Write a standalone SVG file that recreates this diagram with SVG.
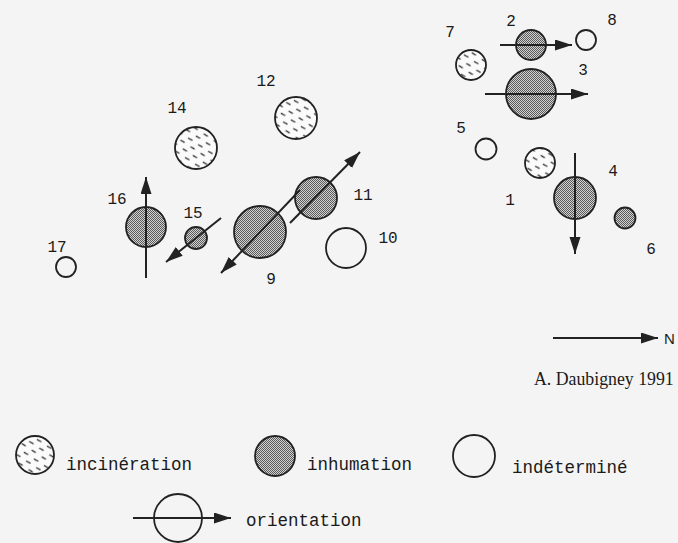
<svg xmlns="http://www.w3.org/2000/svg" width="678" height="543" viewBox="0 0 678 543">
<defs>
<pattern id="dots" patternUnits="userSpaceOnUse" width="2" height="2">
<rect width="2" height="2" fill="#d2d2d2"/>
<rect width="1" height="1" fill="#5a5a5a"/>
<rect x="1" y="1" width="1" height="1" fill="#5a5a5a"/>
</pattern>
<pattern id="dash" patternUnits="userSpaceOnUse" width="8" height="9" patternTransform="rotate(-15)">
<rect width="8" height="9" fill="#fbfbfb"/>
<line x1="2" y1="2" x2="5.5" y2="5.5" stroke="#333" stroke-width="1.2"/>
</pattern>
<marker id="ah" markerUnits="userSpaceOnUse" markerWidth="18" markerHeight="12" refX="17" refY="5.5" orient="auto">
<path d="M0,0 L17,5.5 L0,11 z" fill="#222"/>
</marker>
<style>
.inh{fill:url(#dots);stroke:#222;stroke-width:1.8}
.inc{fill:url(#dash);stroke:#222;stroke-width:1.8}
.ind{fill:none;stroke:#222;stroke-width:1.8}
.lbl{font-family:"Liberation Mono","Courier New",monospace;font-size:16px;fill:#1a1a1a;text-anchor:middle}
.leg{font-family:"Liberation Mono","Courier New",monospace;font-size:17.5px;fill:#1a1a1a}
.arr{stroke:#222;stroke-width:2;fill:none;marker-end:url(#ah)}
.in{stroke:#222;stroke-width:1.6;stroke-dasharray:1.5 1.2;fill:none}
</style>
</defs>
<rect width="678" height="543" fill="#f4f4f4"/>

<g id="n2"><circle class="inh" cx="531" cy="45" r="15"/><text class="lbl" x="511" y="26">2</text></g>
<g id="n8"><circle class="ind" cx="586" cy="40" r="10"/><text class="lbl" x="612" y="25">8</text></g>
<g id="n7"><circle class="inc" cx="471" cy="65" r="15"/><text class="lbl" x="450" y="37">7</text></g>
<g id="n3"><circle class="inh" cx="531" cy="94" r="25"/><text class="lbl" x="583" y="75">3</text></g>
<g id="n5"><circle class="ind" cx="486" cy="149" r="10.5"/><text class="lbl" x="461" y="133">5</text></g>
<g id="n1"><circle class="inc" cx="540" cy="163" r="15"/><text class="lbl" x="510" y="205">1</text></g>
<g id="n4"><circle class="inh" cx="575" cy="198" r="21"/><text class="lbl" x="613" y="176">4</text></g>
<g id="n6"><circle class="inh" cx="625" cy="218" r="10.5"/><text class="lbl" x="651" y="254">6</text></g>
<g id="n10"><circle class="ind" cx="346" cy="248" r="20"/><text class="lbl" x="388" y="243">10</text></g>
<g id="n11"><circle class="inh" cx="316" cy="198" r="21"/><text class="lbl" x="363" y="200">11</text></g>
<g id="n9"><circle class="inh" cx="260" cy="232" r="26"/><text class="lbl" x="271" y="284">9</text></g>
<g id="n12"><circle class="inc" cx="296" cy="118" r="21"/><text class="lbl" x="266" y="86">12</text></g>
<g id="n14"><circle class="inc" cx="196" cy="148" r="21"/><text class="lbl" x="177" y="113">14</text></g>
<g id="n16"><circle class="inh" cx="146" cy="227" r="20"/><text class="lbl" x="117" y="204">16</text></g>
<g id="n15"><circle class="inh" cx="196" cy="238" r="11"/><text class="lbl" x="193" y="218">15</text></g>
<g id="n17"><circle class="ind" cx="66" cy="267" r="10"/><text class="lbl" x="57" y="252">17</text></g>

<g id="connectors">
<line class="arr" x1="500" y1="45" x2="572" y2="45"/>
<line class="in" x1="517" y1="45" x2="545" y2="45"/>
<line class="arr" x1="485" y1="94" x2="588" y2="94"/>
<line class="in" x1="507" y1="94" x2="555" y2="94"/>
<line class="arr" x1="575" y1="153" x2="575" y2="254"/>
<line class="in" x1="575" y1="178" x2="575" y2="218"/>
<line class="arr" x1="146" y1="278" x2="146" y2="177"/>
<line class="in" x1="146" y1="208" x2="146" y2="246"/>
<line class="arr" x1="221" y1="218" x2="166" y2="262"/>
<line class="arr" x1="300" y1="190" x2="221" y2="273"/>
<line class="arr" x1="290" y1="223" x2="360" y2="152"/>
</g>

<g id="north">
<line class="arr" x1="553" y1="338" x2="658" y2="338"/>
<text x="664" y="344" style="font-family:'Liberation Sans',Arial,sans-serif;font-size:15px;fill:#1a1a1a">N</text>
</g>
<text id="credit" x="534" y="385" style="font-family:'Liberation Serif','Times New Roman',serif;font-size:17.8px;fill:#1a1a1a">A. Daubigney 1991</text>

<g id="legend-incineration"><circle class="inc" cx="35" cy="455" r="19"/><text class="leg" x="66" y="470">incinération</text></g>
<g id="legend-inhumation"><circle class="inh" cx="275" cy="456" r="20"/><text class="leg" x="307" y="470">inhumation</text></g>
<g id="legend-indetermine"><circle class="ind" cx="474" cy="456" r="21"/><text class="leg" x="512" y="473">indéterminé</text></g>
<g id="legend-orientation"><circle class="ind" cx="178" cy="518" r="24"/><line class="arr" x1="133" y1="518" x2="231" y2="518"/><text class="leg" x="246" y="526">orientation</text></g>
</svg>
